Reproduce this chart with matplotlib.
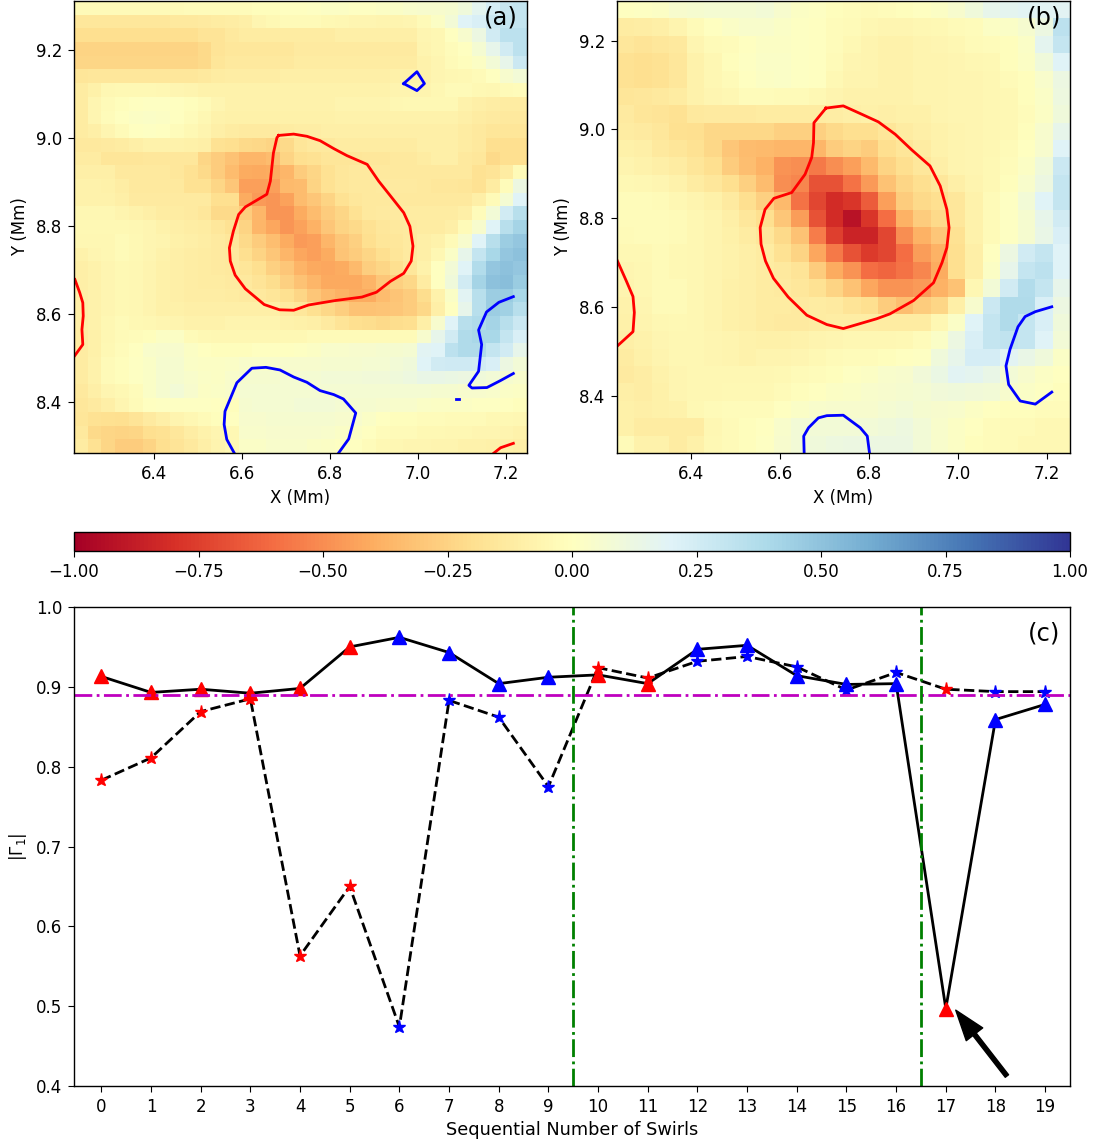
import numpy as np
import matplotlib
matplotlib.use('Agg')
import matplotlib.pyplot as plt

# panel a, hundredths, top row first
field_a = [
[-3,-3,-3,-3,-3,-3,-3,-3,-2,-2,-2, -2,-2,-1,-1,0,0,1,2,2,1,1, 2,3,4,5,5,6,10,17,24,29,30],
[-15,-15,-15,-15,-15,-15,-15,-14,-14,-13,-12, -11,-10,-6,-4,-3,-3,-3,-4,-5,-6,-6, -7,-7,-6,-3,2,8,20,22,28,30,30],
[-20,-20,-20,-20,-20,-20,-20,-20,-20,-17,-17, -14,-12,-12,-12,-12,-12,-12,-12,-10,-10,-10, -10,-10,-10,-6,-5,0,5,12,25,33,33],
[-25,-25,-25,-25,-25,-25,-25,-25,-25,-22,-17, -15,-15,-15,-15,-15,-13,-13,-13,-13,-13,-13, -13,-13,-13,-7,-5,-2,0,7,15,25,33],
[-24,-24,-24,-24,-24,-24,-24,-24,-24,-22,-16, -14,-14,-14,-14,-14,-12,-12,-12,-12,-12,-12, -12,-12,-12,-8,-6,-3,-1,2,8,15,28],
[-16,-15,-15,-15,-15,-15,-15,-15,-15,-14,-12, -11,-11,-11,-11,-10,-10,-10,-10,-10,-10,-10, -10,-9,-9,-8,-6,-5,-4,-3,0,5,8],
[-12,-9,-5,-4,-4,-4,-5,-6,-7,-8,-8, -8,-8,-8,-8,-8,-8,-8,-8,-8,-8,-8, -8,-7,-7,-7,-5,-3,-3,-4,-5,-3,-2],
[-12,-6,-3,-1,0,1,1,0,-1,-3,-6, -8,-8,-8,-8,-8,-8,-8,-8,-7,-7,-7, -7,-5,-4,-4,-4,-4,-8,-10,-11,-12,-12],
[-12,-6,-2,0,2,3,2,0,-2,-5,-8, -9,-9,-9,-9,-9,-9,-9,-9,-8,-8,-8, -8,-8,-8,-8,-8,-8,-10,-12,-13,-14,-14],
[-12,-10,-6,-3,0,1,0,-2,-4,-7,-10, -12,-13,-13,-13,-12,-11,-11,-10,-10,-10,-10, -10,-10,-10,-10,-10,-10,-12,-14,-16,-16,-16],
[-14,-14,-13,-12,-10,-8,-8,-8,-9,-10,-18, -20,-22,-23,-25,-22,-16,-14,-14,-12,-12,-12, -12,-12,-12,-10,-10,-10,-12,-14,-20,-20,-20],
[-12,-12,-16,-16,-16,-15,-15,-15,-15,-24,-28, -32,-36,-36,-34,-25,-20,-18,-16,-16,-16,-15, -15,-14,-14,-12,-10,-10,-14,-15,-22,-20,-20],
[-10,-10,-10,-14,-14,-14,-14,-15,-18,-22,-28, -34,-40,-41,-40,-36,-28,-24,-18,-15,-14,-14, -14,-14,-14,-14,-14,-14,-14,-18,-17,-12,-3],
[-8,-8,-9,-11,-14,-14,-14,-14,-18,-18,-24, -30,-44,-44,-44,-35,-34,-25,-18,-15,-14,-14, -13,-13,-13,-14,-15,-15,-16,-18,-12,-2,12],
[-8,-8,-8,-10,-13,-13,-13,-13,-13,-13,-20, -20,-40,-46,-47,-43,-34,-30,-25,-18,-15,-14, -14,-14,-14,-14,-14,-14,-14,-10,-3,7,20],
[-5,-5,-5,-7,-8,-10,-12,-12,-13,-15,-22, -22,-28,-36,-47,-47,-40,-34,-28,-24,-18,-14, -13,-13,-12,-12,-12,-12,-10,-2,8,25,35],
[-4,-4,-4,-4,-5,-6,-8,-10,-11,-12,-15, -18,-25,-36,-42,-47,-43,-38,-30,-25,-22,-18, -15,-14,-13,-12,-12,-10,-3,5,20,35,42],
[-5,-5,-5,-3,-4,-6,-7,-9,-10,-11,-13, -15,-22,-28,-33,-40,-46,-44,-36,-30,-26,-20, -16,-15,-13,-10,-8,-3,5,20,35,45,48],
[-8,-6,-5,-3,-4,-6,-8,-10,-11,-12,-13, -14,-20,-25,-30,-36,-42,-44,-40,-31,-28,-24, -20,-16,-13,-10,-5,3,15,30,40,48,50],
[-10,-8,-6,-4,-5,-7,-9,-10,-11,-12,-13, -14,-16,-20,-26,-30,-37,-41,-42,-40,-35,-27, -24,-20,-15,-8,0,8,20,37,48,50,48],
[-10,-8,-6,-4,-5,-7,-9,-10,-11,-12,-12, -13,-14,-17,-21,-26,-32,-36,-41,-41,-41,-37, -30,-26,-23,-12,0,10,25,42,50,52,46],
[-10,-8,-6,-4,-5,-7,-9,-10,-11,-11,-11, -12,-13,-14,-16,-19,-24,-30,-35,-38,-40,-40, -34,-31,-28,-21,-8,3,18,35,45,46,40],
[-10,-8,-6,-4,-5,-7,-9,-9,-10,-10,-10, -10,-10,-10,-10,-13,-15,-19,-23,-27,-32,-32, -31,-30,-28,-23,-10,0,15,35,45,43,35],
[-10,-8,-5,-3,-4,-5,-6,-7,-8,-8,-8, -7,-7,-7,-7,-8,-9,-10,-13,-17,-20,-21, -22,-21,-20,-10,5,20,35,38,42,35,28],
[-12,-9,-5,-3,-2,-1,2,2,-3,-4,-5, -5,-5,-5,-5,-4,-4,-3,-3,-3,-3,-3, -3,-3,-3,5,15,25,38,40,40,30,22],
[-12,-9,-4,-2,0,4,5,5,2,0,-1, -1,-1,0,0,0,1,2,4,4,5,5, 6,6,7,18,20,33,38,38,30,25,15],
[-12,-8,-3,-1,1,3,6,6,3,2,2, 3,4,4,4,5,5,5,6,6,6,7, 7,8,10,20,25,26,26,25,22,12,8],
[-12,-8,-3,-1,1,3,6,6,4,3,2, 4,6,6,6,7,7,7,8,8,8,9, 9,10,11,14,14,13,12,10,8,6,4],
[-14,-10,-6,-4,-2,3,6,8,5,2,3, 4,7,7,7,7,7,7,7,7,7,7, 7,7,7,7,6,6,5,5,4,3,2],
[-15,-13,-10,-6,-3,0,1,1,1,1,0, -1,6,7,7,7,8,8,8,7,6,6, 5,4,4,3,2,2,2,1,1,0,-1],
[-16,-18,-19,-20,-17,-13,-10,-7,-5,-3,-1, 0,5,5,6,6,6,6,6,5,5,3, 0,-1,-1,-2,-2,-3,-3,-3,-4,-4,-5],
[-14,-22,-24,-25,-24,-20,-18,-15,-11,-8,-6, -4,4,4,5,5,5,5,4,3,2,0, -2,-3,-3,-4,-4,-5,-5,-6,-6,-7,-8],
[-12,-18,-24,-28,-28,-25,-20,-17,-14,-10,-7, -4,3,3,4,4,4,3,2,1,0,-2, -4,-5,-6,-6,-7,-7,-8,-8,-9,-9,-10],
]

# panel b
field_b = [
[0,1,2,5,6,7,7,7,8,5,2,1,-1, -2,-3,-2,-1,0,2,5,10,15,17,18,18,18],
[-12,-11,-10,-7,-3,0,3,4,4,3,1,0,-2, -3,-5,-6,-6,-5,-4,-3,-2,2,3,6,12,33],
[-15,-17,-15,-14,-6,-3,-2,0,2,2,1,0,-2, -4,-7,-8,-8,-7,-6,-5,-3,-2,-1,3,17,30],
[-18,-20,-18,-15,-8,-5,-1,1,3,3,1,0,-3, -6,-7,-8,-8,-7,-7,-6,-5,-4,-1,2,10,20],
[-18,-20,-18,-15,-8,-5,-3,0,2,3,1,0,-4, -7,-7,-8,-8,-7,-7,-6,-6,-5,-3,-1,4,12],
[-16,-15,-14,-12,-8,-6,-5,-2,-2,-3,-3,-4,-7, -8,-8,-8,-8,-7,-7,-6,-6,-5,-4,-1,3,11],
[-13,-16,-17,-18,-14,-13,-13,-13,-12,-12,-12,-12,-11, -10,-9,-10,-9,-9,-7,-6,-6,-5,-4,-2,2,10],
[-12,-13,-15,-19,-20,-23,-23,-23,-23,-26,-26,-26,-22, -20,-20,-16,-12,-10,-8,-7,-6,-5,-4,-1,5,15],
[-9,-10,-14,-16,-18,-23,-30,-34,-35,-36,-36,-36,-28, -25,-28,-20,-16,-12,-8,-7,-6,-5,-3,0,5,20],
[-7,-8,-10,-12,-16,-20,-28,-33,-38,-48,-50,-56,-50, -44,-35,-25,-20,-15,-10,-7,-6,-4,-2,2,10,28],
[-4,-5,-6,-8,-12,-15,-20,-26,-34,-50,-52,-68,-68, -58,-46,-32,-24,-20,-15,-10,-7,-4,-1,4,12,30],
[-2,-2,-3,-5,-7,-9,-13,-20,-26,-35,-58,-72,-82, -78,-65,-44,-28,-22,-20,-15,-8,-3,1,8,20,30],
[-2,-2,-2,-3,-5,-7,-10,-15,-20,-30,-45,-68,-82, -92,-78,-60,-38,-28,-22,-15,-8,-3,1,6,15,25],
[-3,-2,-2,-3,-5,-7,-9,-12,-15,-22,-32,-55,-75, -85,-85,-72,-50,-38,-30,-18,-8,-3,1,6,14,22],
[-4,-4,-3,-4,-5,-7,-8,-10,-12,-18,-25,-42,-56, -68,-76,-72,-60,-45,-38,-20,-10,0,12,25,30,20],
[-6,-5,-3,-4,-5,-7,-8,-10,-12,-14,-17,-28,-40, -48,-60,-62,-58,-52,-40,-20,-10,2,15,30,33,20],
[-7,-5,-3,-3,-5,-7,-9,-10,-12,-13,-15,-18,-25, -32,-42,-48,-48,-46,-38,-32,-5,8,25,37,30,15],
[-8,-6,-3,-3,-5,-7,-9,-10,-12,-12,-13,-12,-13, -17,-20,-28,-33,-28,-24,-10,5,28,38,38,22,12],
[-9,-7,-5,-4,-5,-7,-9,-10,-12,-13,-13,-12,-11, -11,-11,-12,-12,-12,-5,3,20,30,38,30,22,10],
[-10,-8,-6,-5,-5,-6,-7,-8,-9,-9,-8,-7,-6, -5,-5,-5,-4,-2,3,12,22,30,32,30,20,8],
[-12,-9,-7,-5,-5,-6,-7,-8,-7,-7,-6,-4,-3, -2,-2,-1,0,1,10,15,24,24,18,14,10,3],
[-13,-11,-8,-6,-5,-5,-5,-5,-5,-4,-3,-2,-1, 1,2,4,5,9,13,18,17,14,8,5,2,0],
[-10,-11,-9,-6,-5,-5,-4,-4,-4,-3,-1,0,2, 3,4,5,6,7,9,10,9,8,5,3,1,-1],
[-9,-10,-9,-8,-4,-3,-2,-2,-2,0,3,4,5, 5,5,7,8,6,5,4,2,0,-1,-1,-2,-2],
[-9,-12,-12,-12,-12,-5,-3,-1,0,4,8,8,8, 8,8,10,11,8,4,2,0,-2,-3,-3,-4,-4],
[-3,-8,-8,-12,-9,-4,-3,-1,1,5,8,10,11, 12,12,12,12,8,4,2,-1,-2,-3,-4,-4,-4],
]

# contours panel a
a_red_x = [6.684,6.718,6.748,6.778,6.809,6.839,6.885,6.911,6.938,6.968,6.982,6.989,6.985,6.968,6.938,6.906,6.873,6.812,6.752,6.718,6.686,6.651,6.608,6.585,6.574,6.572,6.581,6.593,6.608,6.657,6.665,6.672,6.680,6.684]
a_red_y = [9.006,9.009,9.004,8.994,8.976,8.960,8.940,8.902,8.868,8.830,8.799,8.754,8.720,8.692,8.674,8.649,8.638,8.630,8.620,8.608,8.609,8.621,8.657,8.688,8.720,8.750,8.788,8.826,8.843,8.872,8.902,8.966,9.001,9.006]
a_red2_x = [6.221,6.232,6.239,6.240,6.237,6.239,6.221]
a_red2_y = [8.678,8.648,8.625,8.595,8.564,8.530,8.505]
a_red3_x = [7.173,7.188,7.217]
a_red3_y = [8.283,8.295,8.305]
a_blue1_x = [6.968,6.998,7.015,6.998,6.968]
a_blue1_y = [9.124,9.151,9.124,9.108,9.124]
a_blue2_x = [7.217,7.184,7.156,7.138,7.145,7.138,7.116,7.123,7.157,7.188,7.217]
a_blue2_y = [8.639,8.626,8.604,8.563,8.530,8.469,8.437,8.431,8.432,8.448,8.464]
a_blue3_x = [7.086,7.093]
a_blue3_y = [8.407,8.407]
a_blue4_x = [6.583,6.566,6.560,6.562,6.589,6.623,6.655,6.687,6.718,6.748,6.778,6.809,6.831,6.859,6.843,6.820]
a_blue4_y = [8.283,8.314,8.348,8.378,8.443,8.476,8.478,8.472,8.456,8.444,8.425,8.416,8.406,8.374,8.315,8.283]

# contours panel b
b_red_x = [6.703,6.742,6.784,6.821,6.859,6.896,6.937,6.960,6.975,6.980,6.975,6.964,6.945,6.900,6.847,6.817,6.742,6.705,6.660,6.618,6.585,6.567,6.557,6.555,6.566,6.586,6.626,6.656,6.671,6.675,6.676,6.703]
b_red_y = [9.048,9.053,9.034,9.017,8.989,8.954,8.918,8.873,8.820,8.779,8.734,8.700,8.655,8.615,8.585,8.574,8.552,8.561,8.582,8.623,8.665,8.704,8.742,8.779,8.820,8.845,8.858,8.899,8.937,8.970,9.015,9.048]
b_red2_x = [6.234,6.254,6.269,6.272,6.269,6.234]
b_red2_y = [8.704,8.659,8.624,8.588,8.545,8.513]
b_blue1_x = [7.211,7.174,7.151,7.135,7.117,7.108,7.114,7.140,7.174,7.211]
b_blue1_y = [8.601,8.590,8.579,8.556,8.505,8.468,8.426,8.389,8.382,8.409]
b_blue2_x = [6.654,6.653,6.664,6.686,6.705,6.742,6.780,6.796,6.801]
b_blue2_y = [8.272,8.310,8.329,8.351,8.356,8.357,8.329,8.310,8.272]

# panel c
swirl = list(range(20))
gamma_solid = [.913,.893,.897,.892,.898,.950,.962,.943,.904,.912,.915,.904,.947,.952,.914,.903,.904,.497,.859,.878]
gamma_dash = [.783,.811,.869,.885,.563,.650,.474,.883,.862,.775,.924,.911,.932,.938,.925,.896,.918,.897,.894,.894]
tri_col = ['r','r','r','r','r','r','b','b','b','b','r','r','b','b','b','b','b','r','b','b']
star_col = ['r','r','r','r','r','r','b','b','b','b','r','r','b','b','b','b','b','r','b','b']
thresh = 0.89
splits = [9.5, 16.5]

W, H = 1094, 1142
plt.rcParams['font.size'] = 12
plt.rcParams['axes.linewidth'] = 1.0
plt.rcParams['xtick.major.size'] = 4.2
plt.rcParams['ytick.major.size'] = 4.2
plt.rcParams['xtick.major.pad'] = 4.2
plt.rcParams['ytick.major.pad'] = 4.2
lw = 2.0

fig = plt.figure(figsize=(W/100, H/100), dpi=100)

def axpx(l, r, t, b):
    return fig.add_axes([l/W, 1-b/H, (r-l)/W, (b-t)/H])

ax1 = axpx(74, 527, 1, 453)
ax2 = axpx(617, 1070, 1, 453)
cax = axpx(74, 1070, 532, 551)
ax3 = axpx(74, 1070, 607, 1086)

# heat maps
lim_a = [6.219, 7.248, 8.283, 9.312]
lim_b = [6.233, 7.252, 8.272, 9.289]
im = ax1.imshow(np.array(field_a)/100., cmap='RdYlBu', vmin=-1, vmax=1, extent=lim_a, aspect='auto', interpolation='nearest')
ax2.imshow(np.array(field_b)/100., cmap='RdYlBu', vmin=-1, vmax=1, extent=lim_b, aspect='auto', interpolation='nearest')

for xs, ys in [(a_red_x,a_red_y),(a_red2_x,a_red2_y),(a_red3_x,a_red3_y)]:
    ax1.plot(xs, ys, color='r', lw=lw)
for xs, ys in [(a_blue1_x,a_blue1_y),(a_blue2_x,a_blue2_y),(a_blue3_x,a_blue3_y),(a_blue4_x,a_blue4_y)]:
    ax1.plot(xs, ys, color='b', lw=lw)
for xs, ys in [(b_red_x,b_red_y),(b_red2_x,b_red2_y)]:
    ax2.plot(xs, ys, color='r', lw=lw)
for xs, ys in [(b_blue1_x,b_blue1_y),(b_blue2_x,b_blue2_y)]:
    ax2.plot(xs, ys, color='b', lw=lw)

ax1.set_xlim(lim_a[0], lim_a[1])
ax1.set_ylim(lim_a[2], lim_a[3])
ax2.set_xlim(lim_b[0], lim_b[1])
ax2.set_ylim(lim_b[2], lim_b[3])
for ax, name in [(ax1,'(a)'),(ax2,'(b)')]:
    ax.set_xticks([6.4,6.6,6.8,7.0,7.2])
    ax.set_yticks([8.4,8.6,8.8,9.0,9.2])
    ax.set_xlabel('X (Mm)', labelpad=4.5)
    ax.set_ylabel('Y (Mm)', labelpad=5)
    ax.text(0.98, 0.963, name, transform=ax.transAxes, ha='right', va='center', fontsize=17.5)

cb = fig.colorbar(im, cax=cax, orientation='horizontal')
cb.set_ticks(np.arange(-1, 1.01, 0.25))
cb.set_ticklabels(['\u22121.00','\u22120.75','\u22120.50','\u22120.25','0.00','0.25','0.50','0.75','1.00'])

# line panel
ax3.plot(swirl, gamma_dash, 'k--', lw=lw)
ax3.plot(swirl, gamma_solid, 'k-', lw=lw)
for i in swirl:
    ax3.plot(i, gamma_dash[i], '*', color=star_col[i], ms=9.5)
    ax3.plot(i, gamma_solid[i], '^', color=tri_col[i], ms=10)
ax3.axhline(thresh, color='m', ls='-.', lw=lw)
for s in splits:
    ax3.axvline(s, color='g', ls='-.', lw=lw)
ax3.annotate('', xy=(17.2, 0.495), xytext=(18.23, 0.4125),
             arrowprops=dict(facecolor='k', edgecolor='k', width=3, headwidth=15, headlength=22, shrink=0))
ax3.set_xlim(-0.55, 19.5)
ax3.set_ylim(0.4, 1.0)
ax3.set_xticks(swirl)
ax3.set_yticks([0.4,0.5,0.6,0.7,0.8,0.9,1.0])
ax3.set_xlabel('Sequential Number of Swirls', fontsize=12.8)
ax3.set_ylabel(r'$|\Gamma_1|$', labelpad=5)
ax3.text(0.99, 0.945, '(c)', transform=ax3.transAxes, ha='right', va='center', fontsize=17.5)

fig.savefig('out.png', dpi=100)
